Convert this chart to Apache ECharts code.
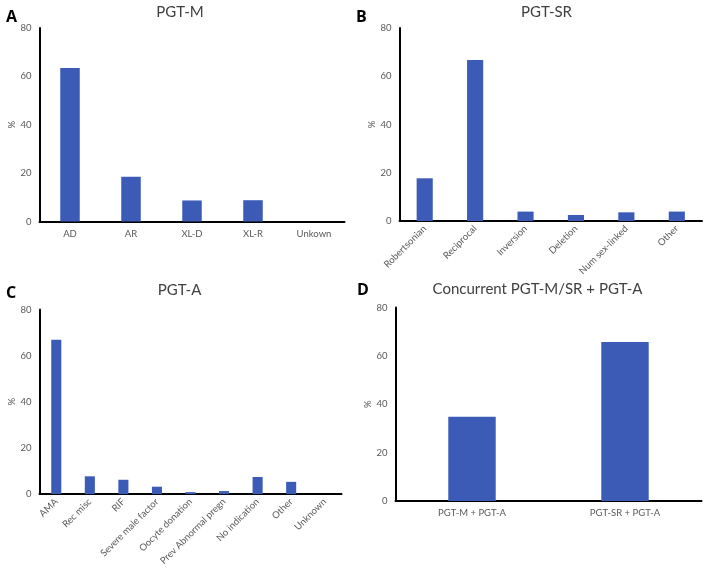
<!DOCTYPE html>
<html>
<head>
<meta charset="utf-8">
<script src="https://cdn.jsdelivr.net/npm/echarts@6/dist/echarts.min.js"></script>
<style>html,body{margin:0;padding:0;background:#fff}#c{width:705px;height:568px}</style>
</head>
<body>
<div id="c"></div>
<script>
const catsA = ['AD', 'AR', 'XL-D', 'XL-R', 'Unkown'];
const valsA = [63.5, 18.5, 8.7, 8.8, 0];
const catsB = ['Robertsonian', 'Reciprocal', 'Inversion', 'Deletion', 'Num sex-linked', 'Other'];
const valsB = [17.7, 66.7, 3.9, 2.5, 3.6, 3.9];
const catsC = ['AMA', 'Rec misc', 'RIF', 'Severe male factor', 'Oocyte donation', 'Prev Abnormal pregn', 'No indication', 'Other', 'Unknown'];
const valsC = [66.9, 7.7, 6.2, 3.2, 0.85, 1.3, 7.4, 5.3, 0];
const catsD = ['PGT-M + PGT-A', 'PGT-SR + PGT-A'];
const valsD = [34.8, 65.7];
const titles = ['PGT-M', 'PGT-SR', 'PGT-A', 'Concurrent PGT-M/SR + PGT-A'];
const letters = ['A', 'B', 'C', 'D'];
const yTicks = [0, 20, 40, 60, 80];

const FONT = 'Lato, "Open Sans", sans-serif';
const LFONT = '"Open Sans", "Liberation Sans", sans-serif';
const BAR = '#3B5BB7';
const grids = [
  {left: 39.5, top: 28, right: 360.5, bottom: 346.5},
  {left: 399.5, top: 28, right: 3, bottom: 347},
  {left: 39.5, top: 309.5, right: 363.5, bottom: 68},
  {left: 395.5, top: 307.5, right: 3.5, bottom: 67}
];
const cats = [catsA, catsB, catsC, catsD];
const vals = [valsA, valsB, valsC, valsD];
const rot = [0, 45, 45, 0];
const bw = ['32%', '32%', '30%', '31%'];
const titlePos = [[175, 0], [541.5, 0], [174.5, 278], [532.5, 277]];
const letterPos = [[1, 4], [351, 4], [1, 280], [352, 277]];
const nameGaps = [22, 22, 22, 22];

const option = {
  animation: false,
  title: titles.map((t, i) => ({
    text: t, left: titlePos[i][0], top: titlePos[i][1], textAlign: 'center',
    textStyle: {fontFamily: FONT, fontSize: 15, fontWeight: 'normal', color: '#404040'}
  })).concat(letters.map((l, i) => ({
    text: l, left: letterPos[i][0], top: letterPos[i][1],
    textStyle: {fontFamily: LFONT, fontSize: 16, fontWeight: 'bold', color: '#000'}
  }))),
  grid: grids.map(g => Object.assign({containLabel: false}, g)),
  xAxis: cats.map((c, i) => ({
    type: 'category', gridIndex: i, data: c,
    axisLine: {lineStyle: {color: '#000', width: 2}},
    axisTick: {show: false},
    axisLabel: {interval: 0, rotate: rot[i], fontFamily: FONT, fontSize: 9.5, color: '#595959', margin: rot[i] ? 6 : 7}
  })),
  yAxis: cats.map((c, i) => ({
    type: 'value', gridIndex: i, min: 0, max: 80, interval: 20,
    name: '%', nameLocation: 'middle', nameGap: nameGaps[i], nameRotate: 90,
    nameTextStyle: {fontFamily: FONT, fontSize: 9.5, color: '#595959'},
    axisLine: {show: true, lineStyle: {color: '#000', width: 2}},
    axisTick: {show: false},
    splitLine: {show: false},
    axisLabel: {fontFamily: FONT, fontSize: 9.5, color: '#595959', margin: 8,
      formatter: v => yTicks.includes(v) ? String(v) : ''}
  })),
  series: vals.map((v, i) => ({
    type: 'bar', xAxisIndex: i, yAxisIndex: i, data: v, barWidth: bw[i],
    itemStyle: {color: BAR}
  }))
};
const chart = echarts.init(document.getElementById('c'), null, {renderer: 'canvas'});
chart.setOption(option);
</script>
</body>
</html>
